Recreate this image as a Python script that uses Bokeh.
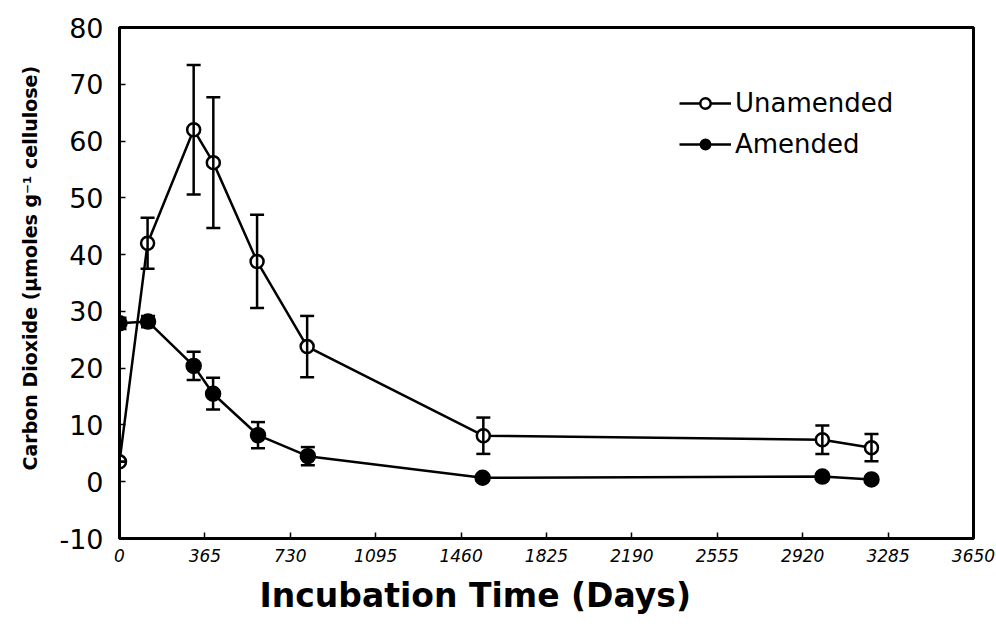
from bokeh.plotting import figure
from bokeh.models import (ColumnDataSource, Whisker, TeeHead, Legend, LegendItem,
                          FixedTicker, Title, Range1d)
from bokeh.embed import file_html
from bokeh.resources import INLINE

# Data
days_un = [0, 120, 317, 401, 588, 802, 1555, 3004, 3214]
co2_un = [3.5, 42.0, 62.0, 56.2, 38.8, 23.8, 8.1, 7.4, 6.0]
err_un = [0.0, 4.5, 11.4, 11.5, 8.2, 5.4, 3.2, 2.5, 2.4]

days_am = [0, 122, 317, 400, 592, 805, 1552, 3004, 3214]
co2_am = [27.9, 28.2, 20.4, 15.5, 8.2, 4.5, 0.7, 0.9, 0.4]
err_am = [1.0, 1.0, 2.5, 2.8, 2.3, 1.6, 0.5, 0.0, 0.0]

x_ticks = [0, 365, 730, 1095, 1460, 1825, 2190, 2555, 2920, 3285, 3650]
y_ticks = [-10, 0, 10, 20, 30, 40, 50, 60, 70, 80]

FONT = "DejaVu Sans"

src_un = ColumnDataSource(dict(x=days_un, y=co2_un,
                               lo=[v - e for v, e in zip(co2_un, err_un)],
                               hi=[v + e for v, e in zip(co2_un, err_un)]))
src_am = ColumnDataSource(dict(x=days_am, y=co2_am,
                               lo=[v - e for v, e in zip(co2_am, err_am)],
                               hi=[v + e for v, e in zip(co2_am, err_am)]))

p = figure(width=996, height=626, output_backend="svg", toolbar_location=None,
           x_range=Range1d(0, 3650), y_range=Range1d(-10, 80),
           min_border_left=118, min_border_right=23, min_border_top=27,
           min_border_bottom=88)
p.background_fill_color = "white"
p.border_fill_color = "white"
p.outline_line_color = "black"
p.outline_line_width = 3
p.grid.visible = False

# axes
p.xaxis.ticker = FixedTicker(ticks=x_ticks)
p.yaxis.ticker = FixedTicker(ticks=y_ticks)
for ax in (p.xaxis[0], p.yaxis[0]):
    ax.axis_line_color = "black"
    ax.axis_line_width = 3
    ax.major_tick_in = 6
    ax.major_tick_out = 0
    ax.major_tick_line_width = 1.5
    ax.minor_tick_in = 0
    ax.minor_tick_out = 0
    ax.major_label_text_font = FONT
    ax.major_label_text_color = "black"

p.yaxis.major_label_text_font_size = "27px"
p.yaxis.major_label_standoff = 16
p.yaxis.major_label_overrides = {-10: "-10"}

p.xaxis.major_label_text_font_size = "17px"
p.xaxis.major_label_text_font_style = "italic"
p.xaxis.major_label_standoff = 10

# y-axis title (placed a little above centre, as in the reference)
p.add_layout(Title(text="Carbon Dioxide (\u00b5moles g\u207b\u00b9 cellulose)",
                   align="left", offset=68, text_font=FONT,
                   text_font_style="bold", text_font_size="19px",
                   text_color="black", standoff=32),
             "left")

# x-axis title, shifted left of centre as in the reference
p.add_layout(Title(text="Incubation Time (Days)", align="left", offset=140,
                   text_font=FONT, text_font_style="bold",
                   text_font_size="33px", text_color="black", standoff=19),
             "below")

# error bars
for src in (src_un, src_am):
    w = Whisker(base="x", upper="hi", lower="lo", source=src,
                line_color="black", line_width=2.5,
                upper_head=TeeHead(size=14, line_width=2.5, line_color="black"),
                lower_head=TeeHead(size=14, line_width=2.5, line_color="black"))
    w.level = "glyph"
    p.add_layout(w)

l_un = p.line("x", "y", source=src_un, line_color="black", line_width=2.5)
s_un = p.scatter("x", "y", source=src_un, size=13, marker="circle",
                 fill_color="white", line_color="black", line_width=2.5)
l_am = p.line("x", "y", source=src_am, line_color="black", line_width=2.5)
s_am = p.scatter("x", "y", source=src_am, size=15, marker="circle",
                 fill_color="black", line_color="black", line_width=1.5)

legend = Legend(items=[LegendItem(label="Unamended", renderers=[l_un, s_un]),
                       LegendItem(label="Amended", renderers=[l_am, s_am])],
                location=(560, 379), border_line_color=None,
                background_fill_alpha=0, padding=0, margin=0, spacing=11,
                glyph_width=52, glyph_height=26, label_height=26,
                label_standoff=4, label_text_font=FONT,
                label_text_font_size="26px", label_text_color="black")
p.add_layout(legend)

open("out.html", "w").write(file_html(p, INLINE))
